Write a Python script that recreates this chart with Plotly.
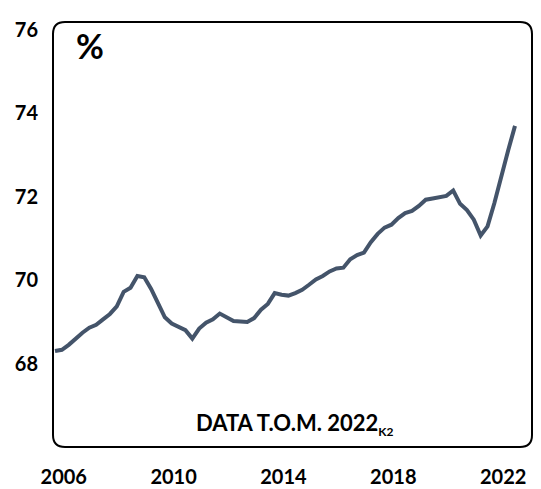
import numpy as np
import plotly.graph_objects as go

# quarterly series, 2005K3 .. 2022K2 (per cent)
years = np.repeat(np.arange(2005, 2023), 4)[2:-2]
quarters = np.tile([1, 2, 3, 4], 18)[2:-2]
rate = [68.30, 68.33, 68.45, 68.61, 68.74, 68.86, 68.93, 69.06, 69.19, 69.37,
        69.72, 69.82, 70.10, 70.07, 69.79, 69.45, 69.11, 68.96, 68.88, 68.80,
        68.60, 68.84, 68.98, 69.06, 69.20, 69.12, 69.02, 69.01, 69.00, 69.09,
        69.29, 69.43, 69.69, 69.65, 69.63, 69.69, 69.77, 69.89, 70.02, 70.10,
        70.21, 70.28, 70.30, 70.50, 70.60, 70.66, 70.91, 71.11, 71.26, 71.33,
        71.49, 71.61, 71.66, 71.78, 71.93, 71.96, 71.98, 72.02, 72.15, 71.83,
        71.68, 71.45, 71.07, 71.29, 71.85, 72.53, 73.11, 73.70]
xpos = years + (quarters - 1) / 4

xticks = [2006, 2010, 2014, 2018, 2022]
yticks = [68, 70, 72, 74, 76]

font = "Lato, 'Open Sans', sans-serif"

fig = go.Figure()
fig.add_trace(go.Scatter(x=xpos, y=rate, mode='lines',
                         line=dict(color='#44546A', width=4),
                         hoverinfo='skip'))

# rounded frame around the plot area (paper coords, radius ~12px)
rx, ry = 12 / 479, 12 / 425
path = (f"M {rx},0 L {1-rx},0 Q 1,0 1,{ry} L 1,{1-ry} Q 1,1 {1-rx},1 "
        f"L {rx},1 Q 0,1 0,{1-ry} L 0,{ry} Q 0,0 {rx},0 Z")
fig.add_shape(type='path', xref='paper', yref='paper', path=path,
              line=dict(color='black', width=2), layer='above')

fig.add_annotation(text='%', xref='paper', yref='paper', x=0.044, y=0.998,
                   xanchor='left', yanchor='top', showarrow=False,
                   font=dict(family=font, size=34, color='black', weight='bold'))
fig.add_annotation(text="DATA T.O.M. 2022<sub><span style='font-size:12px'>K2</span></sub>",
                   xref='paper', yref='paper',
                   x=0.506, y=0.054, xanchor='center', yanchor='middle', showarrow=False,
                   font=dict(family=font, size=22, color='black', weight='bold'))

# the page body adds an 8px offset, so margins are shifted to compensate
fig.update_layout(
    width=541, height=489,
    margin=dict(l=45, r=17, t=14, b=50, autoexpand=False),
    plot_bgcolor='white', paper_bgcolor='white',
    showlegend=False,
    xaxis=dict(range=[2005.427, 2022.869], tickvals=xticks,
               ticktext=[str(v) for v in xticks], showgrid=False, zeroline=False,
               showline=False, ticks='outside', ticklen=12, automargin=False,
               tickcolor='rgba(0,0,0,0)', ticklabelshift=-5,
               tickfont=dict(family=font, size=20, color='black', weight='bold')),
    yaxis=dict(range=[66, 76.19], tickvals=yticks,
               ticktext=[str(v) for v in yticks], showgrid=False, zeroline=False,
               showline=False, ticks='outside', ticklen=10, automargin=False,
               tickcolor='rgba(0,0,0,0)',
               tickfont=dict(family=font, size=20, color='black', weight='bold')),
)

fig.write_html("out.html")
